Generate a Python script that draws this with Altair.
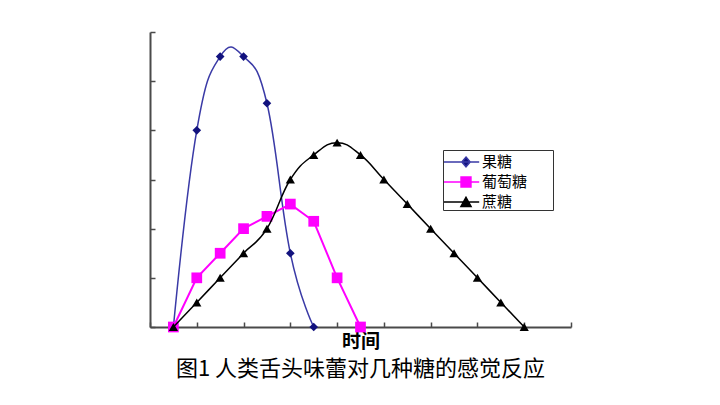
import altair as alt
import pandas as pd

sugars = ["果糖", "葡萄糖", "蔗糖"]

fructose_t = [1, 2, 3, 4, 5, 6, 7]
fructose_v = [0, 4.0, 5.5, 5.5, 4.55, 1.5, 0]

glucose_t = [1, 2, 3, 4, 5, 6, 7, 8, 9]
glucose_v = [0, 1.0, 1.5, 2.0, 2.25, 2.5, 2.15, 1.0, 0]

sucrose_t = [1, 2, 3, 4, 5, 6, 7, 8, 9, 10, 11, 12, 13, 14, 15, 16]
sucrose_v = [0, 0.5, 1.0, 1.5, 2.0, 3.0, 3.5, 3.75, 3.5, 3.0, 2.5, 2.0, 1.5, 1.0, 0.5, 0]

x_ticks = [0, 2, 4, 6, 8, 10, 12, 14, 16, 18]
y_ticks = [0, 1, 2, 3, 4, 5, 6]

x_title = "时间"
caption = "图1  人类舌头味蕾对几种糖的感觉反应"

rows = []
for name, ts, vs in [(sugars[0], fructose_t, fructose_v),
                     (sugars[1], glucose_t, glucose_v),
                     (sugars[2], sucrose_t, sucrose_v)]:
    for t, v in zip(ts, vs):
        rows.append({"sugar": name, "t": t, "v": v})
df = pd.DataFrame(rows)

W, H = 421, 295
FONT = "Noto Sans CJK SC"
AX = "#4a4a4a"

x_axis = alt.Axis(orient="top", offset=-H, values=x_ticks, labels=False, grid=False,
                  ticks=True, tickSize=5, tickColor=AX, tickWidth=1.5,
                  domainColor=AX, domainWidth=2,
                  title=x_title, titleY=14, titleBaseline="middle",
                  titleFont=FONT, titleFontSize=19, titleFontWeight="bold", titleColor="black")
y_axis = alt.Axis(orient="right", offset=-W, values=y_ticks, labels=False, grid=False,
                  ticks=True, tickSize=5, tickColor=AX, tickWidth=1.5,
                  domainColor=AX, domainWidth=2, title=None)

X = alt.X("t:Q", scale=alt.Scale(domain=[0, 18], nice=False, zero=False), axis=x_axis)
Y = alt.Y("v:Q", scale=alt.Scale(domain=[0, 6], nice=False), axis=y_axis)


def series(name, interp, line_color, marker_color, shape, size, sw, tension=None):
    base = alt.Chart(df).transform_filter(alt.datum.sugar == name)
    kw = dict(interpolate=interp, color=line_color, strokeWidth=sw)
    if tension is not None:
        kw["tension"] = tension
    line = base.mark_line(**kw).encode(x=X, y=Y)
    pts = base.mark_point(filled=True, shape=shape, size=size, color=marker_color,
                          opacity=1).encode(x=X, y=Y)
    return [line, pts]


FR_LINE, FR_MARK = "#3a3aa6", "#12127e"
GL = "#ff00ff"
SU = "#000000"

layers = []
layers += series(sugars[0], "cardinal", FR_LINE, FR_MARK, "diamond", 75, 1.5, tension=-0.25)
layers += series(sugars[1], "linear", GL, GL, "square", 115, 2)
layers += series(sugars[2], "cardinal", SU, SU, "triangle-up", 85, 1.5, tension=-0.3)

# legend symbols: line with marker, as custom symbol paths (trailing moveto widens the frame)
paths = [
    "M-1,0H2.2M1.0,-0.45L1.38,0L1.0,0.45L0.62,0ZM8.55,0",
    "M-1,0H2.2M0.55,-0.45H1.45V0.45H0.55ZM8.55,0",
    "M-1,0H2.2M1.0,-0.43L1.46,0.4L0.54,0.4ZM8.55,0",
]
leg = alt.Legend(orient="none", legendX=293, legendY=118, title=None,
                 symbolSize=484, symbolStrokeWidth=1.5, symbolOpacity=1,
                 labelFont=FONT, labelFontSize=15, labelColor="black",
                 labelOffset=15, padding=0, rowPadding=0,
                 strokeColor="#333333", fillColor="white")

legend_layer = alt.Chart(df).mark_point(filled=True, size=0, strokeWidth=1.5).encode(
    x=X, y=Y,
    fill=alt.Fill("sugar:N", scale=alt.Scale(domain=sugars, range=[FR_MARK, GL, SU]), legend=leg),
    stroke=alt.Stroke("sugar:N", scale=alt.Scale(domain=sugars, range=[FR_LINE, GL, SU]), legend=leg),
    shape=alt.Shape("sugar:N", scale=alt.Scale(domain=sugars, range=paths), legend=leg),
)
layers.append(legend_layer)

chart = alt.layer(*layers).properties(
    width=W, height=H,
    autosize=alt.AutoSizeParams(type="none"),
    padding={"left": 142, "top": 24, "right": 141, "bottom": 70},
    background="white",
    title=alt.TitleParams(text=caption, orient="bottom", anchor="middle", font=FONT,
                          fontSize=22, fontWeight="normal", color="black", offset=8),
).configure_view(stroke=None)

chart.save("out.html", embed_options={"renderer": "svg", "actions": False})
